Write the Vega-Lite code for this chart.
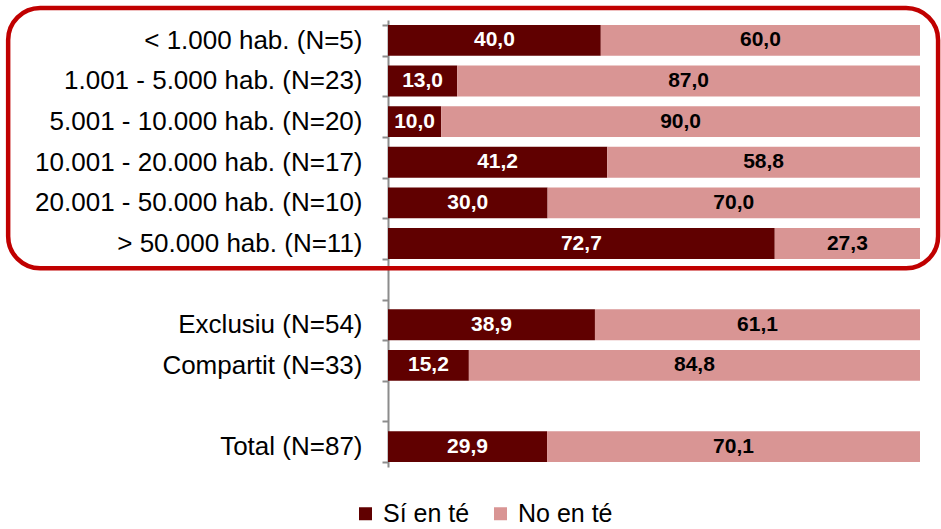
{
  "$schema": "https://vega.github.io/schema/vega-lite/v6.json",
  "width": 532,
  "height": 447,
  "autosize": {"type": "none"},
  "padding": {"left": 388, "top": 20, "right": 21, "bottom": 62},
  "config": {
    "view": {"stroke": null},
    "font": "Liberation Sans",
    "locale": {"number": {"decimal": ",", "thousands": ".", "grouping": [3], "currency": ["", " €"]}}
  },
  "layer": [
    {
      "data": {"values": [{"x": -71.4, "x2": 103.4, "y": -0.296, "y2": 6.108}]},
      "mark": {"type": "rect", "filled": false, "stroke": "#c00000", "strokeWidth": 4.5, "cornerRadius": 32},
      "encoding": {
        "x": {"field": "x", "type": "quantitative", "scale": {"domain": [0, 100], "nice": false, "zero": false}, "axis": null},
        "x2": {"field": "x2"},
        "y": {"field": "y", "type": "quantitative", "scale": {"domain": [0, 11], "reverse": true, "nice": false, "zero": false}, "axis": null},
        "y2": {"field": "y2"}
      }
    },
    {
      "data": {"values": [
        {"cat": "< 1.000 hab. (N=5)", "serie": "Sí en té", "value": 40.0},
        {"cat": "< 1.000 hab. (N=5)", "serie": "No en té", "value": 60.0},
        {"cat": "1.001 - 5.000 hab. (N=23)", "serie": "Sí en té", "value": 13.0},
        {"cat": "1.001 - 5.000 hab. (N=23)", "serie": "No en té", "value": 87.0},
        {"cat": "5.001 - 10.000 hab. (N=20)", "serie": "Sí en té", "value": 10.0},
        {"cat": "5.001 - 10.000 hab. (N=20)", "serie": "No en té", "value": 90.0},
        {"cat": "10.001 - 20.000 hab. (N=17)", "serie": "Sí en té", "value": 41.2},
        {"cat": "10.001 - 20.000 hab. (N=17)", "serie": "No en té", "value": 58.8},
        {"cat": "20.001 - 50.000 hab. (N=10)", "serie": "Sí en té", "value": 30.0},
        {"cat": "20.001 - 50.000 hab. (N=10)", "serie": "No en té", "value": 70.0},
        {"cat": "> 50.000 hab. (N=11)", "serie": "Sí en té", "value": 72.7},
        {"cat": "> 50.000 hab. (N=11)", "serie": "No en té", "value": 27.3},
        {"cat": "Exclusiu (N=54)", "serie": "Sí en té", "value": 38.9},
        {"cat": "Exclusiu (N=54)", "serie": "No en té", "value": 61.1},
        {"cat": "Compartit (N=33)", "serie": "Sí en té", "value": 15.2},
        {"cat": "Compartit (N=33)", "serie": "No en té", "value": 84.8},
        {"cat": "Total (N=87)", "serie": "Sí en té", "value": 29.9},
        {"cat": "Total (N=87)", "serie": "No en té", "value": 70.1}
      ]},
      "transform": [
        {"stack": "value", "groupby": ["cat"], "as": ["x0", "x1"], "sort": [{"field": "serie", "order": "descending"}]},
        {"calculate": "(datum.x0 + datum.x1) / 2", "as": "mid"}
      ],
      "encoding": {
        "y": {
          "field": "cat", "type": "nominal",
          "scale": {
            "domain": ["< 1.000 hab. (N=5)", "1.001 - 5.000 hab. (N=23)", "5.001 - 10.000 hab. (N=20)", "10.001 - 20.000 hab. (N=17)", "20.001 - 50.000 hab. (N=10)", "> 50.000 hab. (N=11)", "blank1", "Exclusiu (N=54)", "Compartit (N=33)", "blank2", "Total (N=87)"],
            "paddingInner": 0.24, "paddingOuter": 0.12
          },
          "axis": {
            "title": null,
            "labelExpr": "indexof(datum.label, 'blank') == 0 ? '' : datum.label",
            "labelFontSize": 26,
            "labelColor": "#000000",
            "labelPadding": 20,
            "labelLimit": 400,
            "tickBand": "extent",
            "tickSize": 6,
            "tickColor": "#8c8c8c",
            "tickWidth": 2,
            "domainColor": "#8c8c8c",
            "domainWidth": 2
          }
        }
      },
      "layer": [
        {
          "mark": {"type": "bar"},
          "encoding": {
            "x": {"field": "x0", "type": "quantitative", "scale": {"domain": [0, 100], "nice": false}, "axis": null},
            "x2": {"field": "x1"},
            "color": {
              "field": "serie", "type": "nominal",
              "scale": {"domain": ["Sí en té", "No en té"], "range": ["#600000", "#d99594"]},
              "legend": {
                "title": null,
                "orient": "none",
                "direction": "horizontal",
                "legendX": -35,
                "legendY": 481,
                "symbolType": "square",
                "symbolSize": 169,
                "symbolStrokeWidth": 0,
                "symbolOpacity": 1,
                "labelFontSize": 25,
                "labelColor": "#000000",
                "labelOffset": 5,
                "columnPadding": 18
              }
            }
          }
        },
        {
          "mark": {"type": "text", "fontWeight": "bold", "fontSize": 21, "baseline": "middle", "align": "center"},
          "encoding": {
            "x": {"field": "mid", "type": "quantitative"},
            "text": {"field": "value", "type": "quantitative", "format": ".1f"},
            "color": {"condition": {"test": "datum.serie == 'Sí en té'", "value": "#ffffff"}, "value": "#000000"}
          }
        }
      ]
    }
  ],
  "resolve": {"scale": {"y": "independent"}, "axis": {"y": "independent"}}
}
